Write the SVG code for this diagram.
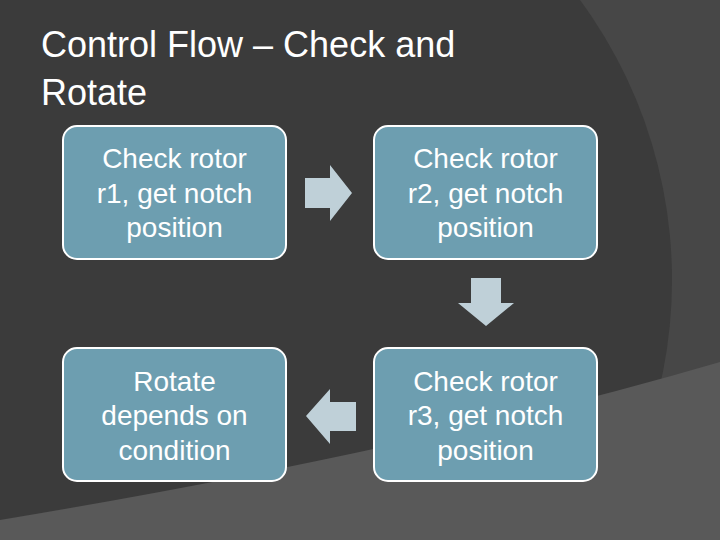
<svg xmlns="http://www.w3.org/2000/svg" width="720" height="540" viewBox="0 0 720 540">
<style>
.box{fill:#6d9eb0;stroke:#ffffff;stroke-width:2}
.t{font-family:"Liberation Sans",Arial,sans-serif;font-size:28px;fill:#ffffff;text-anchor:middle}
.h{font-family:"Liberation Sans",Arial,sans-serif;font-size:36px;fill:#ffffff}
.arr{fill:#bfd0d8}
</style>
<rect width="720" height="540" fill="#474747"/>
<circle cx="200" cy="280" r="472" fill="#3b3b3b"/>
<path d="M720,362 Q420,450 0,520 L0,540 L720,540 Z" fill="#595959"/>
<text class="h" x="41" y="57">Control Flow – Check and</text>
<text class="h" x="41" y="105">Rotate</text>
<g id="n1"><rect class="box" x="63" y="126" width="223" height="133" rx="14"/>
<text class="t" x="174.5" y="168">Check rotor</text><text class="t" x="174.5" y="203">r1, get notch</text><text class="t" x="174.5" y="237">position</text></g>
<g id="n2"><rect class="box" x="374" y="126" width="223" height="133" rx="14"/>
<text class="t" x="485.5" y="168">Check rotor</text><text class="t" x="485.5" y="203">r2, get notch</text><text class="t" x="485.5" y="237">position</text></g>
<g id="n3"><rect class="box" x="374" y="348" width="223" height="133" rx="14"/>
<text class="t" x="485.5" y="391">Check rotor</text><text class="t" x="485.5" y="425">r3, get notch</text><text class="t" x="485.5" y="460">position</text></g>
<g id="n4"><rect class="box" x="63" y="348" width="223" height="133" rx="14"/>
<text class="t" x="174.5" y="391">Rotate</text><text class="t" x="174.5" y="425">depends on</text><text class="t" x="174.5" y="460">condition</text></g>
<g id="connectors">
<polygon class="arr" points="305,178 330,178 330,165 352,193 330,221 330,208 305,208"/>
<polygon class="arr" points="471,278 501,278 501,303 514,303 486,326 458,303 471,303"/>
<polygon class="arr" points="356,402 330,402 330,389 306,416 330,444 330,431 356,431"/>
</g>
</svg>
